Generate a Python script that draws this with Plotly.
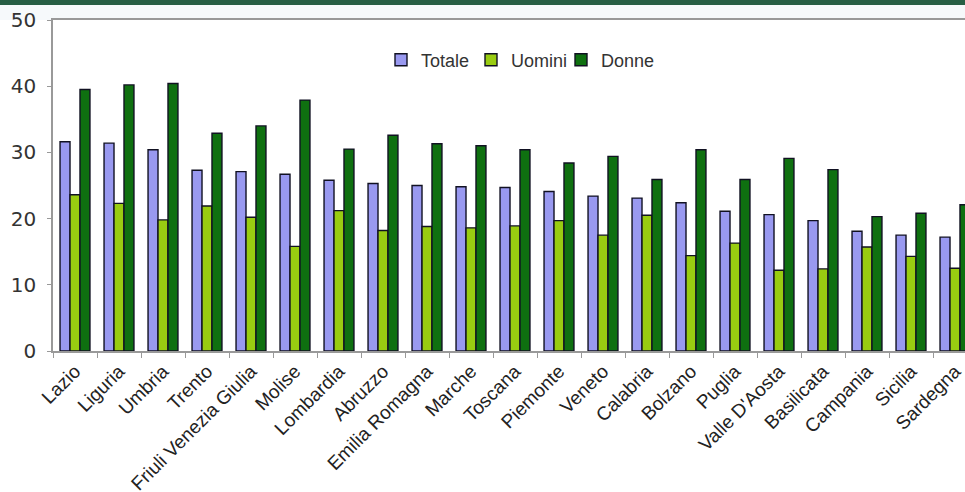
import plotly.graph_objects as go

regions = ["Lazio", "Liguria", "Umbria", "Trento", "Friuli Venezia Giulia", "Molise",
           "Lombardia", "Abruzzo", "Emilia Romagna", "Marche", "Toscana", "Piemonte",
           "Veneto", "Calabria", "Bolzano", "Puglia", "Valle D'Aosta", "Basilicata",
           "Campania", "Sicilia", "Sardegna"]
totale = [31.6, 31.4, 30.4, 27.3, 27.1, 26.7, 25.8, 25.3, 25.0, 24.8, 24.7, 24.1,
          23.4, 23.1, 22.4, 21.1, 20.6, 19.7, 18.1, 17.5, 17.2]
uomini = [23.6, 22.3, 19.8, 21.9, 20.2, 15.8, 21.2, 18.2, 18.8, 18.6, 18.9, 19.7,
          17.5, 20.5, 14.4, 16.3, 12.2, 12.4, 15.7, 14.3, 12.5]
donne = [39.5, 40.2, 40.4, 32.9, 34.0, 37.9, 30.5, 32.6, 31.3, 31.0, 30.4, 28.4,
         29.4, 25.9, 30.4, 25.9, 29.1, 27.4, 20.3, 20.8, 22.1]
series_names = ["Totale", "Uomini", "Donne"]
series_colors = ["#9999f0", "#99cc11", "#0f7010"]
y_ticks = [0, 10, 20, 30, 40, 50]

W, H = 965, 492
ML, MT, MB = 53, 20, 141
plot_w = W - ML
plot_h = H - MT - MB
cat_px = 44.0

fig = go.Figure()
for name, vals, col in zip(series_names, [totale, uomini, donne], series_colors):
    fig.add_trace(go.Bar(
        x=regions, y=vals, name=name,
        marker=dict(color=col, line=dict(color="#111122", width=1.4)),
    ))
# blank legend spacer so the last legend label is not clipped by the fixed entry width
fig.add_trace(go.Scatter(x=[None], y=[None], name=" ", mode="markers",
                         marker=dict(color="rgba(0,0,0,0)", size=1),
                         showlegend=True, hoverinfo="skip"))

fig.add_shape(type="rect", xref="paper", yref="paper",
              x0=-0.2, x1=1.2, y0=1 + 15 / plot_h, y1=1 + 30 / plot_h,
              fillcolor="#275e44", line=dict(width=0), layer="above")
fig.add_shape(type="rect", xref="paper", yref="paper",
              x0=-0.2, x1=1.2, y0=1.0, y1=1 + 15 / plot_h,
              fillcolor="#f6f9fb", line=dict(width=0), layer="below")

fig.update_layout(
    width=W, height=H,
    margin=dict(l=ML, r=0, t=MT, b=MB, pad=0),
    paper_bgcolor="white", plot_bgcolor="white",
    barmode="group", bargap=0.32, bargroupgap=0.0,
    showlegend=True,
    legend=dict(orientation="h", x=(381 - ML) / plot_w, xanchor="left",
                y=(351 - 60) / plot_h, yanchor="middle",
                font=dict(family="Liberation Sans, Arial", size=18, color="#333333"),
                bgcolor="rgba(0,0,0,0)", itemwidth=30, tracegroupgap=0,
                entrywidth=45, entrywidthmode="pixels"),
    font=dict(family="Liberation Sans, Arial", color="#222222"),
)
fig.update_xaxes(
    type="category", range=[-0.5, -0.5 + plot_w / cat_px],
    tickangle=-45, tickfont=dict(family="Liberation Sans, Arial", size=19, color="#222222"),
    showline=True, linecolor="#999999", linewidth=1.5, mirror=True,
    ticks="outside", tickson="boundaries", ticklen=5, tickcolor="#999999",
    showgrid=False, automargin=False,
)
fig.update_yaxes(
    range=[0, 50], tickvals=y_ticks,
    tickfont=dict(family="DejaVu Sans, Verdana", size=20, color="#333333"),
    showline=True, linecolor="#999999", linewidth=1.5,
    ticks="outside", ticklen=4, tickcolor="#999999", ticklabelstandoff=7,
    showgrid=False, zeroline=False, automargin=False,
)
fig.write_html("out.html", config={"displayModeBar": False},
               post_script="document.body.style.margin='0px';document.body.style.overflow='hidden';")
